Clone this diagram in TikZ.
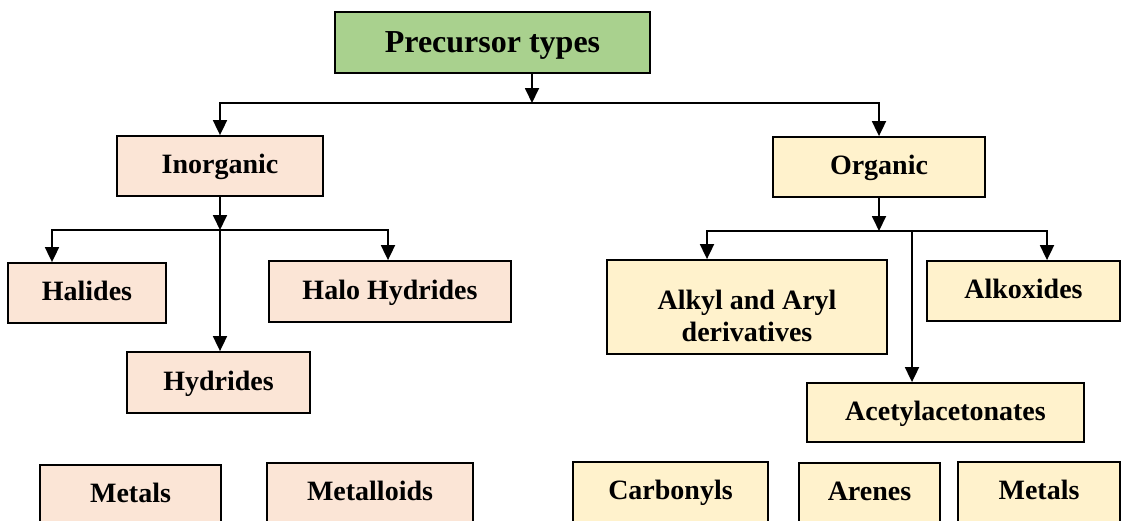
\documentclass[tikz,border=0pt]{standalone}
\usepackage{fontspec}
\setmainfont{Liberation Serif}
\usetikzlibrary{arrows.meta}

\definecolor{topgreen}{HTML}{A9D18E}
\definecolor{inopeach}{HTML}{FBE5D6}
\definecolor{orgcream}{HTML}{FFF2CC}

\tikzset{
    box/.style={draw, line width=1.8pt, inner sep=0pt, align=center,
        text height=22.4pt, text depth=7pt,
        font=\fontsize{28}{32}\selectfont\bfseries},
    topbox/.style={box, fill=topgreen, text height=28pt, text depth=8pt,
        font=\fontsize{32}{36}\selectfont\bfseries},
    inobox/.style={box, fill=inopeach},
    orgbox/.style={box, fill=orgcream},
    link/.style={line width=1.8pt, -{Triangle[length=15pt,width=14pt]}},
}

\begin{document}
\begin{tikzpicture}[x=1pt, y=-1pt]
            \clip (0,0) rectangle (1121,520);
            \fill[white] (0,0) rectangle (1121,520);
            %
            \node[topbox, minimum width=315pt, minimum height=61pt] (prec) at (492.5,42.5) {Precursor types};
            \node[inobox, minimum width=206pt, minimum height=60pt] (inorg) at (220,166) {Inorganic};
            \node[orgbox, minimum width=212pt, minimum height=60pt] (org) at (879,167) {Organic};
            %
            \node[inobox, minimum width=158pt, minimum height=60pt] (halides) at (87,293) {Halides};
            \node[inobox, minimum width=242pt, minimum height=61pt] (halo) at (390,291.5) {Halo Hydrides};
            \node[inobox, minimum width=183pt, minimum height=61pt] (hydrides) at (218.5,382.5) {Hydrides};
            %
            \node[orgbox, text height=, text depth=, minimum width=280pt, minimum height=94pt] (alkyl) at (747,307) {\rule{0pt}{1.3em}Alkyl and Aryl\\derivatives};
            \node[orgbox, minimum width=193pt, minimum height=60pt] (alkox) at (1023.5,291) {Alkoxides};
            \node[orgbox, minimum width=277pt, minimum height=59pt] (acac) at (945.5,412.5) {Acetylacetonates};
            %
            \node[inobox, minimum width=181pt, minimum height=60pt] (metalsA) at (130.5,495) {Metals};
            \node[inobox, minimum width=206pt, minimum height=60pt] (metalloids) at (370,493) {Metalloids};
            \node[orgbox, minimum width=195pt, minimum height=60pt] (carbonyls) at (670.5,492) {Carbonyls};
            \node[orgbox, minimum width=141pt, minimum height=60pt] (arenes) at (869.5,493) {Arenes};
            \node[orgbox, minimum width=162pt, minimum height=60pt] (metalsB) at (1039,492) {Metals};
            %
            \coordinate (split) at (532,103);
            \coordinate (inosplit) at (220,230);
            \coordinate (orgsplit) at (879,231);
            %
            \draw[link] ([xshift=39.5pt]prec.south) -- (split);
            \draw[link] (split) -| (inorg.north);
            \draw[link] (split) -| (org.north);
            %
            \draw[link] (inorg.south) -- (inosplit);
            \draw[link] (inosplit) -| ([xshift=-35pt]halides.north);
            \draw[link] (inosplit) -| ([xshift=-2pt]halo.north);
            \draw[link] (inosplit) -- (inosplit |- hydrides.north);
            %
            \draw[link] (org.south) -- (orgsplit);
            \draw[link] (orgsplit) -| ([xshift=-40pt]alkyl.north);
            \draw[link] (orgsplit) -| ([xshift=23.5pt]alkox.north);
            \draw[link] ([xshift=-33.5pt]acac.north |- orgsplit) -- ([xshift=-33.5pt]acac.north);
        \end{tikzpicture}
\end{document}
